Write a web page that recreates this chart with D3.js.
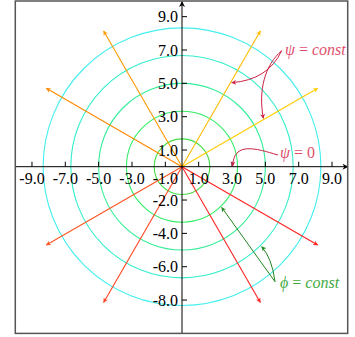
<!DOCTYPE html>
<html>
<head>
<meta charset="utf-8">
<script src="https://cdn.jsdelivr.net/npm/d3@7"></script>
<style>
  body { margin: 0; background: #fff; }
  text { font-family: "Liberation Serif", "DejaVu Serif", serif; }
</style>
</head>
<body>
<script>
(function () {

// data
var xTicks = [-9, -7, -5, -3, -1, 1, 3, 5, 7, 9];
var yTicks = [9, 7, 5, 3, 1, -2, -4, -6, -8];
var radii = [1.67, 3.33, 5, 6.67, 8.33];
var circleColors = ["#44dd44", "#33ee66", "#33ee99", "#33eecc", "#44eeee"];
var rayAngles = [30, 60, 120, 150, 210, 240, 300, 330];
var rayColors = ["#ffcc00", "#ffbb00", "#ff9900", "#ff8800", "#ff5522", "#ff4422", "#ff2222", "#ff2222"];
var rayLength = 9.4;

var width = 355;
var height = 337;

var svg = d3.select("body")
  .append("svg")
    .attr("width", width)
    .attr("height", height);

var x = d3.scaleLinear().domain([-10, 10]).range([15.3, 348.7]);
var y = d3.scaleLinear().domain([-10, 10]).range([333.4, 0]);

var defs = svg.append("defs");

function marker(id, color, len, wid) {
  defs.append("marker")
    .attr("id", id)
    .attr("viewBox", "0 -5 10 10")
    .attr("refX", 9)
    .attr("refY", 0)
    .attr("markerUnits", "userSpaceOnUse")
    .attr("markerWidth", len)
    .attr("markerHeight", wid)
    .attr("orient", "auto")
  .append("path")
    .attr("d", "M0,-5L10,0L0,5L3,0Z")
    .attr("fill", color);
}
rayColors.forEach(function(c, i) { marker("ray" + i, c, 7, 5); });
marker("axis", "#000", 9, 6);
marker("pink", "#cc2244", 6, 5);
marker("green", "#228822", 6, 5);

defs.append("clipPath")
  .attr("id", "frame")
.append("rect")
  .attr("x", x(-10)).attr("y", y(10))
  .attr("width", x(10) - x(-10) - 1.5).attr("height", y(-10) - y(10));

// circles
svg.selectAll(".ring")
  .data(radii)
  .enter()
  .append("circle")
    .attr("class", "ring")
    .attr("cx", x(0))
    .attr("cy", y(0))
    .attr("r", function(d) { return x(d) - x(0); })
    .attr("fill", "none")
    .attr("stroke", function(d, i) { return circleColors[i]; })
    .attr("stroke-width", 1.1);

// rays
svg.selectAll(".ray")
  .data(rayAngles)
  .enter()
  .append("line")
    .attr("class", "ray")
    .attr("x1", x(0))
    .attr("y1", y(0))
    .attr("x2", function(d) { return x(rayLength * Math.cos(d * Math.PI / 180)); })
    .attr("y2", function(d) { return y(rayLength * Math.sin(d * Math.PI / 180)); })
    .attr("stroke", function(d, i) { return rayColors[i]; })
    .attr("stroke-width", 1.1)
    .attr("marker-end", function(d, i) { return "url(#ray" + i + ")"; });

// axes
svg.append("line")
  .attr("x1", x(-10)).attr("y1", y(0))
  .attr("x2", x(9.95)).attr("y2", y(0))
  .attr("stroke", "#000").attr("stroke-width", 1)
  .attr("marker-end", "url(#axis)");
svg.append("line")
  .attr("x1", x(0)).attr("y1", y(-10))
  .attr("x2", x(0)).attr("y2", y(9.9))
  .attr("stroke", "#000").attr("stroke-width", 1)
  .attr("marker-end", "url(#axis)");

svg.selectAll(".xtick")
  .data(xTicks)
  .enter()
  .append("line")
    .attr("x1", function(d) { return x(d); })
    .attr("x2", function(d) { return x(d); })
    .attr("y1", y(0))
    .attr("y2", y(0) - 5)
    .attr("stroke", "#000");
svg.selectAll(".xlabel")
  .data(xTicks)
  .enter()
  .append("text")
    .attr("x", function(d) { return x(d); })
    .attr("y", y(0) + 17)
    .attr("text-anchor", "middle")
    .attr("font-size", 16)
    .text(function(d) { return d.toFixed(1); });

svg.selectAll(".ytick")
  .data(yTicks)
  .enter()
  .append("line")
    .attr("x1", x(0))
    .attr("x2", x(0) + 5)
    .attr("y1", function(d) { return y(d); })
    .attr("y2", function(d) { return y(d); })
    .attr("stroke", "#000");
svg.selectAll(".ylabel")
  .data(yTicks)
  .enter()
  .append("text")
    .attr("x", x(0) - 4)
    .attr("y", function(d) { return y(d) + 5.5; })
    .attr("text-anchor", "end")
    .attr("font-size", 16)
    .text(function(d) { return d.toFixed(1); });

// annotations
function pt(p) { return x(p[0]) + "," + y(p[1]); }

svg.append("path")
  .attr("d", "M" + pt([5.98, 6.96]) + "Q" + pt([5.16, 5.2]) + " " + pt([2.98, 5.04]))
  .attr("fill", "none").attr("stroke", "#cc2244").attr("stroke-width", 1)
  .attr("marker-end", "url(#pink)");
svg.append("path")
  .attr("d", "M" + pt([5.98, 6.96]) + "C" + pt([4.98, 6.1]) + " " + pt([4.56, 4.6]) + " " + pt([4.88, 2.9]))
  .attr("fill", "none").attr("stroke", "#cc2244").attr("stroke-width", 1)
  .attr("marker-end", "url(#pink)");
svg.append("path")
  .attr("d", "M" + pt([5.75, 0.7]) + "C" + pt([4.38, 1.12]) + " " + pt([3.1, 1.5]) + " " + pt([3.04, 0.04]))
  .attr("fill", "none").attr("stroke", "#cc2244").attr("stroke-width", 1)
  .attr("marker-end", "url(#pink)");

svg.append("path")
  .attr("d", "M" + pt([5.58, -6.9]) + "L" + pt([2.38, -2.44]))
  .attr("fill", "none").attr("stroke", "#228822").attr("stroke-width", 1)
  .attr("marker-end", "url(#green)");
svg.append("path")
  .attr("d", "M" + pt([5.58, -6.9]) + "Q" + pt([5.4, -5.48]) + " " + pt([4.78, -4.8]))
  .attr("fill", "none").attr("stroke", "#228822").attr("stroke-width", 1)
  .attr("marker-end", "url(#green)");

function label(p, sym, rest, color) {
  var t = svg.append("text")
    .attr("x", x(p[0]))
    .attr("y", y(p[1]))
    .attr("font-size", 16)
    .attr("fill", color)
    .attr("clip-path", "url(#frame)");
  t.append("tspan").attr("font-style", "italic").text(sym);
  t.append("tspan").attr("dx", 4).text("=");
  t.append("tspan").attr("dx", 4).attr("font-style", rest === "0" ? "normal" : "italic").text(rest);
}
label([6.18, 6.7], "ψ", "const", "#e0506e");
label([5.88, 0.52], "ψ", "0", "#e0506e");
label([5.88, -7.28], "ϕ", "const", "#44aa44");

// frame
svg.append("rect")
  .attr("x", x(-10)).attr("y", y(10) + 1)
  .attr("width", x(10) - x(-10) - 1).attr("height", y(-10) - y(10) - 1)
  .attr("fill", "none")
  .attr("stroke", "#555")
  .attr("stroke-width", 1.5);

}());
</script>
</body>
</html>
